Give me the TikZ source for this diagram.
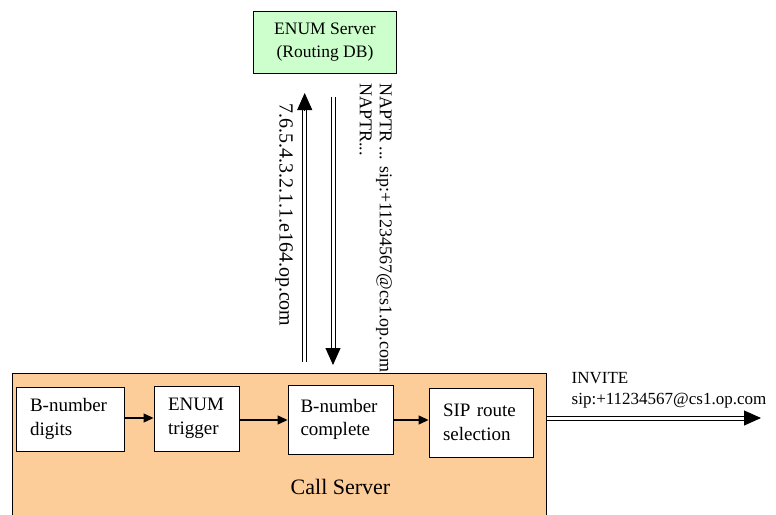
\documentclass[tikz,border=0pt]{standalone}
\usepackage{fontspec}
\setmainfont{Liberation Serif}
\usetikzlibrary{arrows.meta}
\definecolor{enumgreen}{RGB}{204,255,204}
\definecolor{peach}{RGB}{252,204,153}
\tikzset{
  box/.style={draw=black, line width=0.9pt, fill=white, align=left, inner xsep=14pt, inner ysep=0pt,
    font=\fontsize{19}{23.5}\selectfont},
  lbl/.style={font=\fontsize{18}{20}\selectfont, inner sep=0pt},
  smallarrow/.style={line width=1.1pt, -{Triangle[length=10pt,width=9pt]}},
  shaft/.style={line width=0.9pt},
  bighead/.style={-{Triangle[length=17pt,width=15pt]}, line width=0.9pt},
}
\begin{document}
\begin{tikzpicture}[x=1pt,y=-1pt]
\useasboundingbox (0,0) rectangle (776,514);
% ENUM server
\node[draw=black, line width=0.9pt, fill=enumgreen, minimum width=143pt, minimum height=62pt,
  align=center, font=\fontsize{17.5}{23}\selectfont, inner sep=0pt] (enum) at (325,42.5) {ENUM Server\\(Routing DB)};
% Call server
\node[draw=black, line width=0.9pt, fill=peach, minimum width=534pt, minimum height=148pt, inner sep=0pt] (cs) at (279,447) {};
\node[font=\fontsize{22}{26}\selectfont, inner sep=0pt] (cslabel) at (340.5,487) {Call Server};
% inner boxes
\node[box, minimum width=108pt, minimum height=64pt, text width=80pt] (digits) at (70,419) {B-number\\digits};
\node[box, minimum width=85pt, minimum height=65pt, text width=57pt] (trigger) at (196.5,418.5) {ENUM\\trigger};
\node[box, inner xsep=12.5pt, minimum width=105pt, minimum height=69pt, text width=80pt] (complete) at (340.5,419.5) {B-number\\complete};
\node[box, minimum width=104pt, minimum height=69pt, text width=76pt] (sip) at (481,422.5) {SIP route\\selection};
% small arrows
\draw[smallarrow] (digits.east |- 0,418) -- (trigger.west |- 0,418);
\draw[smallarrow] (trigger.east |- 0,420) -- (complete.west |- 0,420);
\draw[smallarrow] (complete.east |- 0,420) -- (sip.west |- 0,420);
% vertical double arrows
\coordinate (upS) at (304.7,361.5);
\coordinate (upM) at (304.7,109);
\coordinate (upB) at (304.7,110);
\coordinate (upT) at (304.7,93);
\coordinate (dnS) at (333,97);
\coordinate (dnM) at (333,349);
\coordinate (dnB) at (333,348);
\coordinate (dnT) at (333,365);
\draw[shaft] ([xshift=-2pt]upS) -- ([xshift=-2pt]upM);
\draw[shaft] ([xshift=2pt]upS) -- ([xshift=2pt]upM);
\draw[bighead] (upB) -- (upT);
\draw[shaft] ([xshift=-2pt]dnS) -- ([xshift=-2pt]dnM);
\draw[shaft] ([xshift=2pt]dnS) -- ([xshift=2pt]dnM);
\draw[bighead] (dnB) -- (dnT);
% horizontal double arrow
\coordinate (invS) at (546,418);
\coordinate (invM) at (745,418);
\coordinate (invB) at (744,418);
\coordinate (invT) at (761,418);
\draw[shaft] ([yshift=2pt]invS) -- ([yshift=2pt]invM);
\draw[shaft] ([yshift=-2pt]invS) -- ([yshift=-2pt]invM);
\draw[bighead] (invB) -- (invT);
% labels
\node[lbl, font=\fontsize{20}{22}\selectfont, rotate=-90, anchor=west] (qlabel) at (284,103) {7.6.5.4.3.2.1.1.e164.op.com};
\node[lbl, rotate=-90, anchor=north west, align=left] (alabel) at (392,83) {NAPTR ... sip:+11234567@cs1.op.com\\NAPTR...};
\node[font=\fontsize{17}{21}\selectfont, inner sep=0pt, anchor=north west, align=left] (invlabel) at (571.5,372) {INVITE\\sip:+11234567@cs1.op.com};
\end{tikzpicture}
\end{document}
